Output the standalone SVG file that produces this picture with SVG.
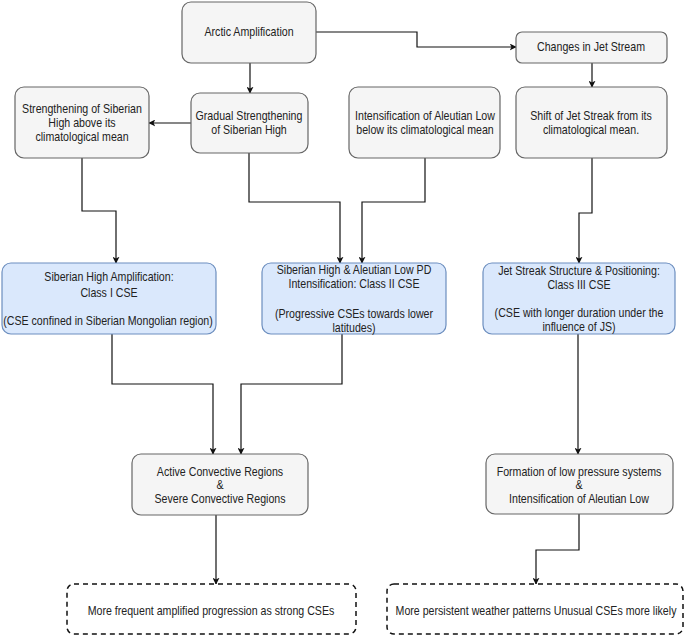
<svg xmlns="http://www.w3.org/2000/svg" width="685" height="638" viewBox="0 0 685 638">
<style>
.box{fill:#f5f5f5;stroke:#666;stroke-width:1.2}
.blue{fill:#dae8fc;stroke:#6c8ebf;stroke-width:1.2}
.dash{fill:#fff;stroke:#111;stroke-width:1.5;stroke-dasharray:5 4}
text{font-family:"Liberation Sans",Arial,sans-serif;font-size:12px;fill:#222;text-anchor:middle}
.c{fill:none;stroke:#111;stroke-width:1.2}
</style>
<defs>
<marker id="ah" viewBox="0 0 10 10" refX="9" refY="5" markerWidth="7" markerHeight="7" orient="auto" markerUnits="userSpaceOnUse">
<path d="M0,0 L10,5 L0,10 L2.5,5 Z" fill="#111"/>
</marker>
</defs>
<rect width="685" height="638" fill="#fff"/>
<g id="connectors">
<path class="c" d="M250,63 V93" marker-end="url(#ah)"/>
<path class="c" d="M191,123 H149" marker-end="url(#ah)"/>
<path class="c" d="M316,32 H417 V47 H516" marker-end="url(#ah)"/>
<path class="c" d="M592,63 V87" marker-end="url(#ah)"/>
<path class="c" d="M82,158 V211 H116 V263" marker-end="url(#ah)"/>
<path class="c" d="M249,153 V202 H340 V263" marker-end="url(#ah)"/>
<path class="c" d="M425,158 V202 H362 V263" marker-end="url(#ah)"/>
<path class="c" d="M592,158 V213 H579 V263" marker-end="url(#ah)"/>
<path class="c" d="M112,334 V384 H213 V454" marker-end="url(#ah)"/>
<path class="c" d="M342,334 V384 H241 V454" marker-end="url(#ah)"/>
<path class="c" d="M578,334 V454" marker-end="url(#ah)"/>
<path class="c" d="M216,515 V584" marker-end="url(#ah)"/>
<path class="c" d="M579,514 V550 H536 V584" marker-end="url(#ah)"/>
</g>
<g id="arctic">
<rect class="box" x="182" y="2" width="134" height="61" rx="9"/>
<text transform="translate(249 36) scale(0.885 1)">Arctic Amplification</text>
</g>
<g id="jetstream">
<rect class="box" x="516" y="32" width="151" height="31" rx="6"/>
<text transform="translate(591 51) scale(0.885 1)">Changes in Jet Stream</text>
</g>
<g id="gradual">
<rect class="box" x="191" y="93" width="117" height="60" rx="9"/>
<text transform="translate(249 120) scale(0.885 1)">Gradual Strengthening</text>
<text transform="translate(249 134) scale(0.885 1)">of Siberian High</text>
</g>
<g id="strengthening">
<rect class="box" x="15" y="87" width="134" height="71" rx="9"/>
<text transform="translate(82 113) scale(0.885 1)">Strengthening of Siberian</text>
<text transform="translate(82 127) scale(0.885 1)">High above its</text>
<text transform="translate(82 141) scale(0.885 1)">climatological mean</text>
</g>
<g id="aleutian">
<rect class="box" x="349" y="87" width="151" height="71" rx="9"/>
<text transform="translate(425 120) scale(0.885 1)">Intensification of Aleutian Low</text>
<text transform="translate(425 134) scale(0.885 1)">below its climatological mean</text>
</g>
<g id="shift">
<rect class="box" x="516" y="87" width="151" height="71" rx="9"/>
<text transform="translate(591 120) scale(0.885 1)">Shift of Jet Streak from its</text>
<text transform="translate(591 134) scale(0.885 1)">climatological mean.</text>
</g>
<g id="class1">
<rect class="blue" x="2" y="263" width="214" height="71" rx="9"/>
<text transform="translate(109 281) scale(0.885 1)">Siberian High Amplification:</text>
<text transform="translate(109 297) scale(0.885 1)">Class I CSE</text>
<text transform="translate(108 325) scale(0.885 1)">(CSE confined in Siberian Mongolian region)</text>
</g>
<g id="class2">
<rect class="blue" x="262" y="263" width="184" height="71" rx="9"/>
<text transform="translate(354 274) scale(0.885 1)">Siberian High &amp; Aleutian Low PD</text>
<text transform="translate(354 288) scale(0.885 1)">Intensification: Class II CSE</text>
<text transform="translate(354 318) scale(0.885 1)">(Progressive CSEs towards lower</text>
<text transform="translate(354 332) scale(0.885 1)">latitudes)</text>
</g>
<g id="class3">
<rect class="blue" x="483" y="263" width="192" height="71" rx="9"/>
<text transform="translate(579 275) scale(0.885 1)">Jet Streak Structure &amp; Positioning:</text>
<text transform="translate(579 289) scale(0.885 1)">Class III CSE</text>
<text transform="translate(579 317) scale(0.885 1)">(CSE with longer duration under the</text>
<text transform="translate(579 331) scale(0.885 1)">influence of JS)</text>
</g>
<g id="active">
<rect class="box" x="132" y="454" width="176" height="61" rx="9"/>
<text transform="translate(220 476) scale(0.885 1)">Active Convective Regions</text>
<text transform="translate(220 489) scale(0.885 1)">&amp;</text>
<text transform="translate(220 503) scale(0.885 1)">Severe Convective Regions</text>
</g>
<g id="formation">
<rect class="box" x="486" y="454" width="187" height="60" rx="9"/>
<text transform="translate(579 476) scale(0.885 1)">Formation of low pressure systems</text>
<text transform="translate(579 489) scale(0.885 1)">&amp;</text>
<text transform="translate(579 503) scale(0.885 1)">Intensification of Aleutian Low</text>
</g>
<g id="result1">
<rect class="dash" x="67" y="584" width="289" height="50" rx="7"/>
<text transform="translate(211 615) scale(0.885 1)">More frequent amplified progression as strong CSEs</text>
</g>
<g id="result2">
<rect class="dash" x="387" y="584" width="296" height="50" rx="7"/>
<text transform="translate(536 615) scale(0.885 1)">More persistent weather patterns Unusual CSEs more likely</text>
</g>
</svg>
